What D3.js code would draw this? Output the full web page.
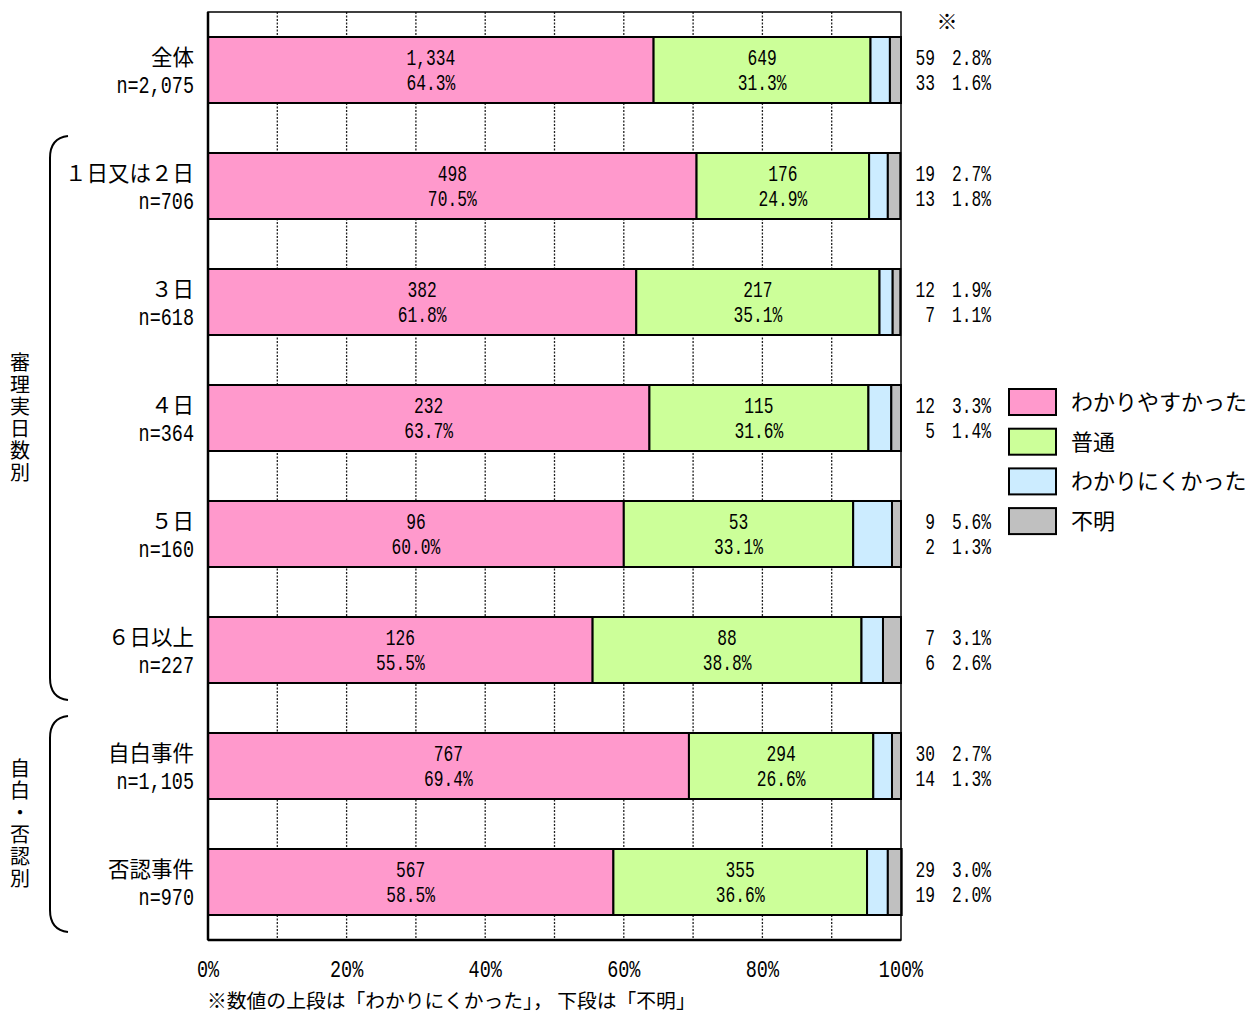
<!DOCTYPE html>
<html><head><meta charset="utf-8">
<script src="https://cdn.jsdelivr.net/npm/d3@7"></script>
<style>
body{margin:0;background:#fff;}
svg{display:block;}
</style></head>
<body><svg id="c" width="1258" height="1014"></svg>
<script>
const categories = ["全体","１日又は２日","３日","４日","５日","６日以上","自白事件","否認事件"];
const nValues = [2075,706,618,364,160,227,1105,970];
const seriesNames = ["わかりやすかった","普通","わかりにくかった","不明"];
const countEasy = [1334,498,382,232,96,126,767,567];
const pctEasy = [64.3,70.5,61.8,63.7,60.0,55.5,69.4,58.5];
const countNormal = [649,176,217,115,53,88,294,355];
const pctNormal = [31.3,24.9,35.1,31.6,33.1,38.8,26.6,36.6];
const countHard = [59,19,12,12,9,7,30,29];
const pctHard = [2.8,2.7,1.9,3.3,5.6,3.1,2.7,3.0];
const countUnknown = [33,13,7,5,2,6,14,19];
const pctUnknown = [1.6,1.8,1.1,1.4,1.3,2.6,1.3,2.0];
const xTicks = [0,20,40,60,80,100];
const groups = [{label:"審理実日数別", from:1, to:5},{label:"自白・否認別", from:6, to:7}];
const colors = ["#FF99CC","#CCFF99","#CCECFF","#C0C0C0"];

const keys = ["easy","normal","hard","unknown"];
const rows = categories.map((c,i)=>({cat:c, n:nValues[i],
  easy:pctEasy[i], normal:pctNormal[i], hard:pctHard[i], unknown:pctUnknown[i],
  counts:[countEasy[i],countNormal[i],countHard[i],countUnknown[i]],
  pcts:[pctEasy[i],pctNormal[i],pctHard[i],pctUnknown[i]]}));

const svg = d3.select("#c");
const x = d3.scaleLinear().domain([0,100]).range([208,901]);
const y = d3.scaleBand().domain(categories).range([12,940]).paddingInner(0.431).paddingOuter(0.2155);
const jpFont = "'Noto Sans CJK JP',sans-serif";
const monoFont = "'Liberation Mono','DejaVu Sans Mono',monospace";
const fmtN = d3.format(",");
const fmtP = v => v.toFixed(1) + "%";

function numText(g, tx, ty, str, anchor, size, sx){
  return g.append("text").attr("transform",`translate(${tx},${ty}) scale(${sx||0.74},1)`)
    .attr("dy","0.36em").attr("text-anchor",anchor||"middle")
    .attr("font-family",monoFont).attr("font-size",size||22).attr("fill","#000").text(str);
}

// plot background
svg.append("rect").attr("x",x(0)).attr("y",12).attr("width",x(100)-x(0)).attr("height",928)
  .attr("fill","#fff");

// gridlines
svg.append("g").selectAll("line").data(d3.range(10,100,10)).join("line")
  .attr("x1",d=>x(d)).attr("x2",d=>x(d)).attr("y1",12).attr("y2",940)
  .attr("stroke","#222").attr("stroke-width",1.3).attr("stroke-dasharray","2,1.5");

// stacked bars
const stack = d3.stack().keys(keys)(rows);
const gBars = svg.append("g");
stack.forEach((layer,li)=>{
  gBars.selectAll(null).data(layer).join("rect")
    .attr("x",d=>x(d[0])).attr("width",d=>x(d[1])-x(d[0]))
    .attr("y",d=>y(d.data.cat)).attr("height",y.bandwidth())
    .attr("fill",colors[li]).attr("stroke","#000").attr("stroke-width",2);
});

// frame
svg.append("rect").attr("x",x(0)).attr("y",12).attr("width",x(100)-x(0)).attr("height",928)
  .attr("fill","none").attr("stroke","#000").attr("stroke-width",1.5);
svg.append("line").attr("x1",x(0)).attr("x2",x(0)).attr("y1",12).attr("y2",940).attr("stroke","#000").attr("stroke-width",2.5);
svg.append("line").attr("x1",x(0)).attr("x2",x(100)).attr("y1",940).attr("y2",940).attr("stroke","#000").attr("stroke-width",2.5);

// in-bar labels
const gLab = svg.append("g");
stack.slice(0,2).forEach((layer,li)=>{
  layer.forEach(d=>{
    const cx = (x(d[0])+x(d[1]))/2, cy = y(d.data.cat)+y.bandwidth()/2;
    numText(gLab, cx, cy-12.5, fmtN(d.data.counts[li]));
    numText(gLab, cx, cy+12.5, fmtP(d.data.pcts[li]));
  });
});

// right annotations
const gR = svg.append("g");
rows.forEach(r=>{
  const cy = y(r.cat)+y.bandwidth()/2;
  [[2,-12.5],[3,12.5]].forEach(([k,off])=>{
    numText(gR, 935, cy+off, String(r.counts[k]), "end");
    numText(gR, 952, cy+off, fmtP(r.pcts[k]), "start");
  });
});
svg.append("text").attr("x",947).attr("y",21).attr("dy","0.36em").attr("text-anchor","middle")
  .attr("font-family",jpFont).attr("font-size",21).text("※");

// category labels
const gC = svg.append("g");
rows.forEach(r=>{
  const cy = y(r.cat)+y.bandwidth()/2;
  gC.append("text").attr("x",194).attr("y",cy-13).attr("dy","0.36em").attr("text-anchor","end")
    .attr("font-family",jpFont).attr("font-size",21.5).text(r.cat);
  numText(gC, 194, cy+14, "n="+fmtN(r.n), "end", 24, 0.77);
});

// group braces and labels
groups.forEach(g=>{
  const y0 = y(categories[g.from]) - 17, y1 = y(categories[g.to]) + y.bandwidth() + 17;
  svg.append("path").attr("d",`M68,${y0} Q50,${y0+2} 50,${y0+22} L50,${y1-22} Q50,${y1-2} 68,${y1}`)
    .attr("fill","none").attr("stroke","#000").attr("stroke-width",2);
  const mid = (y0+y1)/2;
  svg.append("text").attr("x",20).attr("y",mid)
    .attr("writing-mode","vertical-rl").attr("text-anchor","middle")
    .attr("letter-spacing",2).attr("font-family",jpFont).attr("font-size",20).text(g.label);
});

// x axis labels
const gX = svg.append("g");
xTicks.forEach(t=>numText(gX, x(t), 968, t+"%", "middle", 24, 0.77));

// footnote
svg.append("text").attr("x",207).attr("y",1001).attr("dy","0.36em")
  .attr("font-family",jpFont).attr("font-size",19.8).text("※数値の上段は「わかりにくかった」， 下段は「不明」");

// legend
const lg = svg.append("g");
seriesNames.forEach((s,i)=>{
  const ly = 389 + i*39.7;
  lg.append("rect").attr("x",1009).attr("y",ly).attr("width",47).attr("height",26)
    .attr("fill",colors[i]).attr("stroke","#000").attr("stroke-width",2);
  lg.append("text").attr("x",1071).attr("y",ly+13).attr("dy","0.36em")
    .attr("font-family",jpFont).attr("font-size",22).text(s);
});
</script></body></html>
